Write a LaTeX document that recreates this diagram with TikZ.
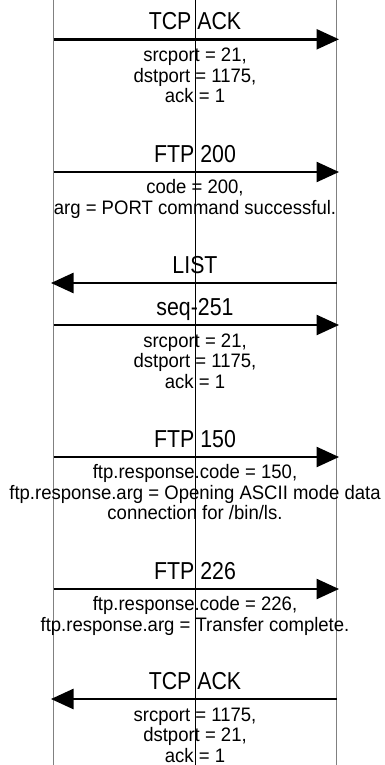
\documentclass[tikz,border=0pt]{standalone}
\usepackage{fontspec}
\usetikzlibrary{arrows.meta, calc}
\newfontfamily\titlefamily{Liberation Sans}[FakeStretch=0.87]
\newfontfamily\bodyfamily{Liberation Sans}[FakeStretch=0.95]
\newcommand{\titlefont}{\titlefamily\fontsize{24.5}{28}\selectfont}
\newcommand{\bodyfont}{\bodyfamily\fontsize{19.5}{20.5}\selectfont}

\tikzset{
  lifeline/.style={draw=black!50, line width=1.2pt},
  midline/.style={draw=black, line width=0.9pt},
  msg/.style={line width=2.5pt, -{Triangle[length=22.5pt, width=20pt]}, shorten >=-2.5pt},
  msgtitle/.style={font=\titlefont, anchor=base, inner sep=0pt},
  % base of a multi-line node = baseline of its last line
  msgbody/.style={font=\bodyfont, align=center, anchor=base, inner sep=0pt},
}

\begin{document}
\begin{tikzpicture}[x=1pt, y=-1pt]
      \useasboundingbox (0,0) rectangle (385,765);

      % lifelines
      \coordinate (cl top) at (53.5,0);   \coordinate (cl bot) at (53.5,765);
      \coordinate (mid top) at (195,0);   \coordinate (mid bot) at (195,765);
      \coordinate (sv top) at (336.5,0);  \coordinate (sv bot) at (336.5,765);
      \draw[lifeline] (cl top) -- (cl bot);
      \draw[lifeline] (sv top) -- (sv bot);
      \draw[midline] (mid top) -- (mid bot);

      % TCP ACK
      \coordinate (a1) at (53.5,39.3); \coordinate (b1) at (336.5,39.3);
      \draw[msg] (a1) -- (b1);
      \node[msgtitle] (t1) at (195,29.8) {TCP ACK};
      \node[msgbody] (d1) at (195,102.8) {srcport = 21,\\ dstport = 1175,\\ ack = 1};

      % FTP 200
      \coordinate (a2) at (53.5,172); \coordinate (b2) at (336.5,172);
      \draw[msg] (a2) -- (b2);
      \node[msgtitle] (t2) at (195,162.5) {FTP 200};
      \node[msgbody] (d2) at (195,214) {code = 200,\\ arg = PORT command successful.};

      % LIST
      \coordinate (a3) at (336.5,283); \coordinate (b3) at (53.5,283);
      \draw[msg] (a3) -- (b3);
      \node[msgtitle] (t3) at (195,273.5) {LIST};

      % seq-251
      \coordinate (a4) at (53.5,325); \coordinate (b4) at (336.5,325);
      \draw[msg] (a4) -- (b4);
      \node[msgtitle] (t4) at (195,315.5) {seq-251};
      \node[msgbody] (d4) at (195,388) {srcport = 21,\\ dstport = 1175,\\ ack = 1};

      % FTP 150
      \coordinate (a5) at (53.5,457); \coordinate (b5) at (336.5,457);
      \draw[msg] (a5) -- (b5);
      \node[msgtitle] (t5) at (195,447.5) {FTP 150};
      \node[msgbody] (d5) at (195,519.5) {ftp.response.code = 150,\\ ftp.response.arg = Opening ASCII mode data\\ connection for /bin/ls.};

      % FTP 226
      \coordinate (a6) at (53.5,589); \coordinate (b6) at (336.5,589);
      \draw[msg] (a6) -- (b6);
      \node[msgtitle] (t6) at (195,579.5) {FTP 226};
      \node[msgbody] (d6) at (195,631) {ftp.response.code = 226,\\ ftp.response.arg = Transfer complete.};

      % TCP ACK
      \coordinate (a7) at (336.5,699); \coordinate (b7) at (53.5,699);
      \draw[msg] (a7) -- (b7);
      \node[msgtitle] (t7) at (195,689.5) {TCP ACK};
      \node[msgbody] (d7) at (195,762) {srcport = 1175,\\ dstport = 21,\\ ack = 1};
\end{tikzpicture}
\end{document}
